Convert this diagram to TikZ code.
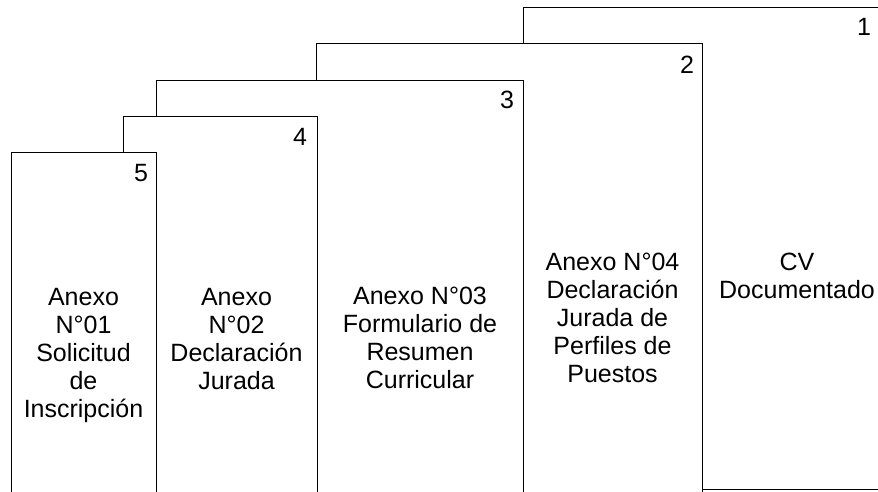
\documentclass[tikz,border=0pt]{standalone}
\usepackage{fontspec}
\setmainfont{Liberation Sans}
\begin{document}
\begin{tikzpicture}[x=1pt,y=-1pt,
  page/.style={draw=black, fill=white, line width=1.2pt, rectangle, inner sep=0pt, anchor=north west},
  num/.style={font=\fontsize{25}{28}\selectfont, anchor=base east, inner sep=0pt},
  lbl/.style={font=\fontsize{25}{28}\selectfont, anchor=base, inner sep=0pt}]
\useasboundingbox (0,0) rectangle (878,491);
\clip (0,0) rectangle (878,491);
\fill[white] (0,0) rectangle (878,491);
% pages, back to front
\node[page, minimum width=357pt, minimum height=482pt] (p1) at (523,7) {};
\node[page, minimum width=386pt, minimum height=480pt] (p2) at (316,43) {};
\node[page, minimum width=367pt, minimum height=440pt] (p3) at (156,80) {};
\node[page, minimum width=194pt, minimum height=400pt] (p4) at (123,116) {};
\node[page, minimum width=145pt, minimum height=370pt] (p5) at (11,152) {};
% page numbers
\node[num] (n1) at ([xshift=-10pt,yshift=-28pt]p1.north east) {1};
\node[num] (n2) at ([xshift=-9pt,yshift=-30pt]p2.north east) {2};
\node[num] (n3) at ([xshift=-10pt,yshift=-28pt]p3.north east) {3};
\node[num] (n4) at ([xshift=-11pt,yshift=-29pt]p4.north east) {4};
\node[num] (n5) at ([xshift=-9pt,yshift=-29pt]p5.north east) {5};
% labels
\node[lbl] (t5) at (83.5,305) {\begin{tabular}[t]{@{}c@{}}Anexo\\N°01\\Solicitud\\de\\Inscripción\end{tabular}};
\node[lbl] (t4) at (236.5,305) {\begin{tabular}[t]{@{}c@{}}Anexo\\N°02\\Declaración\\Jurada\end{tabular}};
\node[lbl] (t3) at (420,304) {\begin{tabular}[t]{@{}c@{}}Anexo N°03\\Formulario de\\Resumen\\Curricular\end{tabular}};
\node[lbl] (t2) at (612.5,270) {\begin{tabular}[t]{@{}c@{}}Anexo N°04\\Declaración\\Jurada de\\Perfiles de\\Puestos\end{tabular}};
\node[lbl] (t1) at (797,270) {\begin{tabular}[t]{@{}c@{}}CV\\Documentado\end{tabular}};
\end{tikzpicture}
\end{document}
